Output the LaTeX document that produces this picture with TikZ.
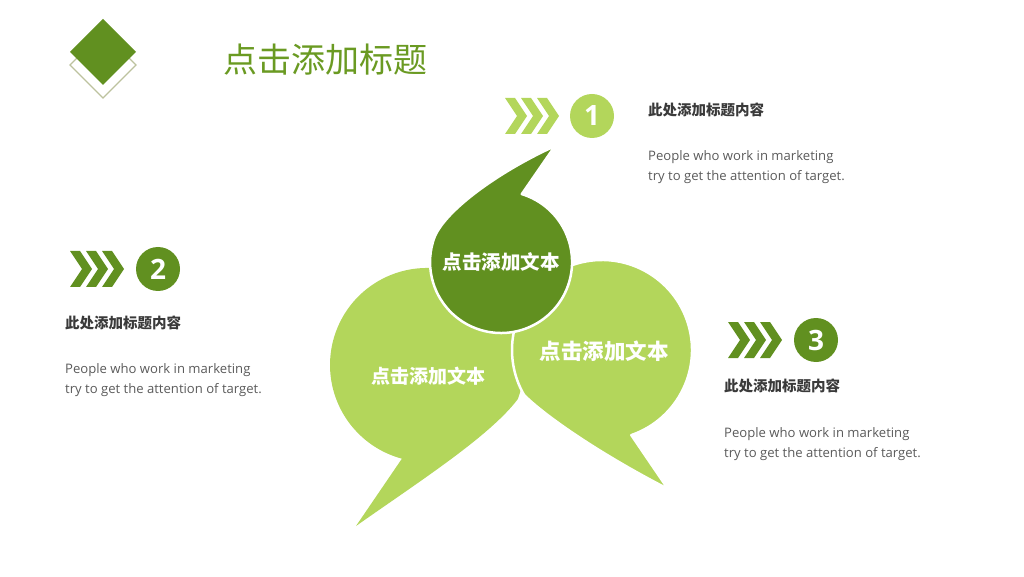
\documentclass[tikz,border=0pt]{standalone}
\usepackage{fontspec}
\setmainfont{Open Sans}
\newfontfamily\cjk{Noto Sans CJK SC}
\definecolor{dkg}{HTML}{619020}
\definecolor{ltg}{HTML}{B3D65B}
\definecolor{ttl}{HTML}{6A9A22}
\definecolor{dmo}{HTML}{BDC29E}
\definecolor{hd}{HTML}{3A3A3A}
\definecolor{bd}{HTML}{5A5A5A}
\newcommand\chevs[3]{\foreach \i in {0,1,2}{\fill[#3] ({#1+16*\i},{#2+18}) -- ++(10,0) -- ++(12,-18) -- ++(-12,-18) -- ++(-10,0) -- ++(12,18) -- cycle;}}
\begin{document}
\begin{tikzpicture}[x=1pt,y=1pt,
  numc/.style={circle,minimum size=44pt,inner sep=0pt,text=white,font=\bfseries\fontsize{28}{28}\selectfont},
  btxt/.style={text=white,inner sep=0pt,font=\cjk\bfseries\fontsize{#1}{#1}\selectfont},
  head/.style={anchor=west,inner sep=0pt,text=hd,font=\cjk\bfseries\fontsize{14.5}{16}\selectfont},
  body/.style={anchor=west,inner sep=0pt,text=bd,align=left,font=\fontsize{13.1}{20}\selectfont},
  bub/.style={draw=white,line width=2.5pt,line join=round}]
\useasboundingbox (0,0) rectangle (1024,576);
% logo
\draw[dmo,line width=1.2pt] (70,511) -- (103,544) -- (136,511) -- (103,478) -- cycle;
\fill[dkg] (70,524) -- (103,557) -- (136,524) -- (103,491) -- cycle;
\node[anchor=west,inner sep=0pt,text=ttl,font=\cjk\fontsize{34}{34}\selectfont] (title) at (223,516) {点击添加标题};
% bubbles
\fill[ltg] (517.8,176.9) arc[start angle=-20.6,end angle=255,radius=97] -- (356,50) .. controls (420,95) and (490,140) .. (517.8,176.9) -- cycle;
\filldraw[ltg,bub] (631.3,140.9) arc[start angle=-71,end angle=210,radius=90] .. controls (545,160) and (600,122) .. (668,87) -- cycle;
\filldraw[dkg,bub] (521.8,381.9) arc[start angle=73,end angle=-200.7,radius=71] .. controls (446,366) and (498,404) .. (555,430) -- cycle;
\node[btxt=19.5] (b1) at (501,314) {点击添加文本};
\node[btxt=19] (b2) at (428,200) {点击添加文本};
\node[btxt=21.5] (b3) at (604,225) {点击添加文本};
% item 1
\chevs{505}{460}{ltg}
\node[numc,fill=ltg] (n1) at (592,460) {1};
\node[head] (h1) at (648,466) {此处添加标题内容};
\node[body] (p1) at (648,409) {People who work in marketing\\try to get the attention of target.};
% item 2
\chevs{70}{307}{dkg}
\node[numc,fill=dkg] (n2) at (158,307) {2};
\node[head] (h2) at (65,253) {此处添加标题内容};
\node[body] (p2) at (65,196) {People who work in marketing\\try to get the attention of target.};
% item 3
\chevs{728}{236}{dkg}
\node[numc,fill=dkg] (n3) at (816,236) {3};
\node[head] (h3) at (724,190) {此处添加标题内容};
\node[body] (p3) at (724,132) {People who work in marketing\\try to get the attention of target.};
\end{tikzpicture}
\end{document}
